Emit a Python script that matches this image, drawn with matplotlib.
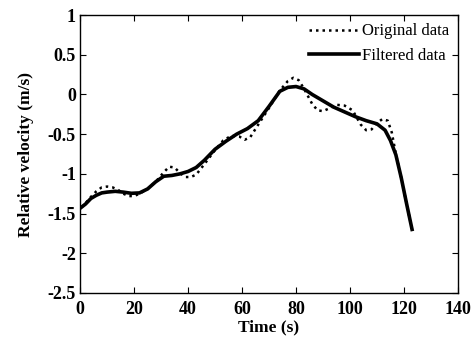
import matplotlib
matplotlib.use('Agg')
import matplotlib.pyplot as plt

# original (dotted) series
t_orig = [0.5, 2, 4, 6, 8, 10, 12, 14, 16, 18, 20, 22, 25, 28, 31, 33, 35, 37, 39, 41,
          43, 46, 50, 53, 56, 59, 61, 63, 66, 70, 74, 77, 79, 81, 83, 86, 88, 90, 92, 95,
          98, 101, 104, 106, 108, 110, 112, 114, 115.5, 117, 119, 121, 123]
v_orig = [-1.42, -1.37, -1.29, -1.22, -1.17, -1.16, -1.17, -1.20, -1.25, -1.28, -1.28, -1.25,
          -1.19, -1.10, -0.98, -0.91, -0.92, -0.99, -1.04, -1.04, -1.01, -0.88, -0.70, -0.58,
          -0.52, -0.53, -0.57, -0.54, -0.38, -0.17, 0.05, 0.17, 0.21, 0.18, 0.07, -0.12, -0.20,
          -0.21, -0.18, -0.13, -0.14, -0.20, -0.38, -0.45, -0.44, -0.36, -0.31, -0.33, -0.48,
          -0.75, -1.05, -1.38, -1.70]

# filtered (solid) series
t_filt = [0.5, 2, 4, 6, 8, 10, 13, 16, 19, 22, 25, 28, 31, 34, 37, 40, 43, 46, 50, 54, 58,
          62, 66, 70, 74, 77, 80, 83, 86, 90, 94, 98, 102, 106, 110, 113, 115, 117, 119, 121, 123]
v_filt = [-1.42, -1.38, -1.31, -1.27, -1.24, -1.23, -1.22, -1.23, -1.245, -1.24, -1.19, -1.10,
          -1.03, -1.02, -1.00, -0.97, -0.92, -0.83, -0.69, -0.59, -0.50, -0.43, -0.33, -0.15,
          0.04, 0.09, 0.10, 0.07, 0.00, -0.08, -0.16, -0.22, -0.28, -0.33, -0.37, -0.45, -0.58,
          -0.76, -1.05, -1.38, -1.70]

plt.rcParams['font.family'] = ['Liberation Serif', 'DejaVu Serif']

fig = plt.figure(figsize=(4.77, 3.43), dpi=100)
ax = fig.add_axes([0.168, 0.146, 0.792, 0.810])

ax.plot(t_orig, v_orig, color='black', linestyle=(0, (1, 1.6)), linewidth=1.8, label='Original data')
ax.plot(t_filt, v_filt, color='black', linestyle='-', linewidth=2.6, label='Filtered data')

ax.set_xlim(0, 140)
ax.set_ylim(-2.5, 1)
ax.set_xticks(range(0, 141, 20))
ax.set_yticks([1, 0.5, 0, -0.5, -1, -1.5, -2, -2.5])
ax.set_yticklabels(['1', '0.5', '0', '-0.5', '-1', '-1.5', '-2', '-2.5'])
ax.tick_params(direction='in', top=True, right=True, length=4, labelsize=13)
ax.tick_params(axis='x', pad=6)
ax.tick_params(axis='y', pad=3)
for lbl in ax.get_xticklabels() + ax.get_yticklabels():
    lbl.set_fontweight('bold')
for s in ax.spines.values():
    s.set_linewidth(1.0)

ax.set_xlabel('Time (s)', fontsize=12.5, fontweight='bold', labelpad=1)
ax.set_ylabel('Relative velocity (m/s)', fontsize=12.5, fontweight='bold', labelpad=10)

ax.legend(loc='upper right', frameon=False, fontsize=12, handlelength=3.0,
          handletextpad=0.2, borderaxespad=0.1, labelspacing=0.5)

fig.savefig('out.png', dpi=100)
